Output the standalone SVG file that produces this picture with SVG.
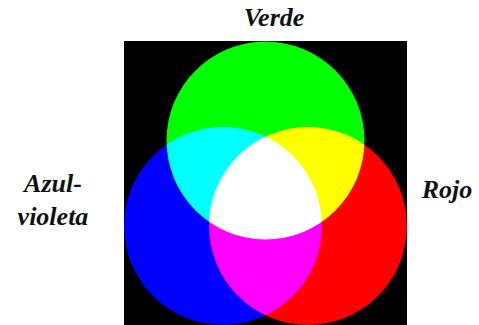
<svg xmlns="http://www.w3.org/2000/svg" width="479" height="325" viewBox="0 0 479 325">
<style>
.lbl{font-family:"Liberation Serif","DejaVu Serif",serif;font-weight:bold;font-style:italic;font-size:26px;fill:#111;}
.c{mix-blend-mode:screen;}
</style>
<rect width="479" height="325" fill="#fff"/>
<g id="mezcla" style="isolation:isolate">
<rect x="124" y="41" width="283" height="284" fill="#000"/>
<circle id="verde" class="c" cx="265.5" cy="140.5" r="99" fill="#00ff00"/>
<circle id="azul" class="c" cx="223" cy="226" r="99" fill="#0000ff"/>
<circle id="rojo" class="c" cx="308" cy="226" r="99" fill="#ff0000"/>
</g>
<g id="etiquetas">
<text class="lbl" x="274" y="26" text-anchor="middle">Verde</text>
<text class="lbl" x="53" y="192" text-anchor="middle">Azul-</text>
<text class="lbl" x="53" y="225" text-anchor="middle">violeta</text>
<text class="lbl" x="447" y="198" text-anchor="middle">Rojo</text>
</g>
</svg>
